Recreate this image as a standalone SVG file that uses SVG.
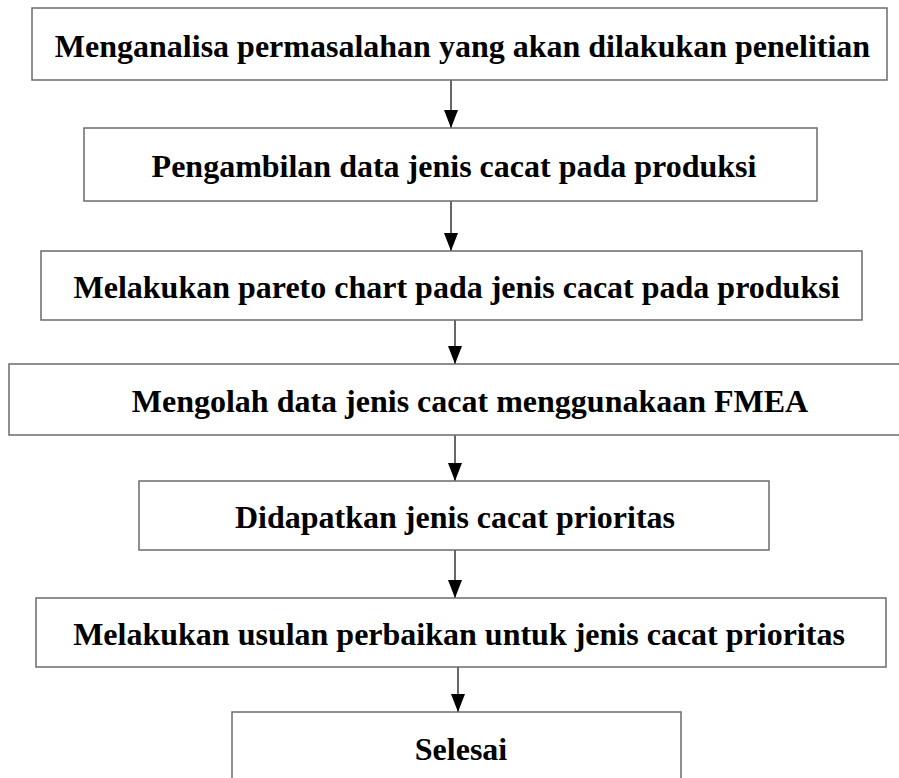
<svg xmlns="http://www.w3.org/2000/svg" width="899" height="778" viewBox="0 0 899 778">
<style>
.box{fill:#ffffff;stroke:#6b6b6b;stroke-width:1.5}
.lbl{font-weight:bold;font-size:32px;fill:#000;text-anchor:middle}
.conn{stroke:#000;stroke-width:1.2;fill:none}
</style>
<defs>
<marker id="ah" markerUnits="userSpaceOnUse" markerWidth="18" markerHeight="14" refX="18" refY="7" orient="auto" viewBox="0 0 18 14">
<path d="M0,0 L18,7 L0,14 Z" fill="#000"/>
</marker>
</defs>
<rect x="0" y="0" width="899" height="778" fill="#ffffff"/>
<g id="connectors">
<line class="conn" x1="451" y1="80" x2="451" y2="128" marker-end="url(#ah)"/>
<line class="conn" x1="451" y1="201" x2="451" y2="251" marker-end="url(#ah)"/>
<line class="conn" x1="455" y1="320" x2="455" y2="364" marker-end="url(#ah)"/>
<line class="conn" x1="455" y1="435" x2="455" y2="481" marker-end="url(#ah)"/>
<line class="conn" x1="455" y1="550" x2="455" y2="598" marker-end="url(#ah)"/>
<line class="conn" x1="458" y1="667" x2="458" y2="712" marker-end="url(#ah)"/>
</g>
<g font-family="'Liberation Serif', 'Times New Roman', 'DejaVu Serif', serif">
<g id="n1"><rect class="box" x="32" y="8" width="855" height="72"/><text class="lbl" x="462.5" y="56.5">Menganalisa permasalahan yang akan dilakukan penelitian</text></g>
<g id="n2"><rect class="box" x="84" y="128" width="733" height="73"/><text class="lbl" x="454" y="177">Pengambilan data jenis cacat pada produksi</text></g>
<g id="n3"><rect class="box" x="41" y="251" width="821" height="69"/><text class="lbl" x="456.5" y="298">Melakukan pareto chart pada jenis cacat pada produksi</text></g>
<g id="n4"><rect class="box" x="9" y="364" width="891" height="71"/><text class="lbl" x="470" y="412">Mengolah data jenis cacat menggunakaan FMEA</text></g>
<g id="n5"><rect class="box" x="139" y="481" width="630" height="69"/><text class="lbl" x="455" y="528">Didapatkan jenis cacat prioritas</text></g>
<g id="n6"><rect class="box" x="36" y="598" width="850" height="69"/><text class="lbl" x="459" y="645">Melakukan usulan perbaikan untuk jenis cacat prioritas</text></g>
<g id="n7"><rect class="box" x="232" y="712" width="449" height="80"/><text class="lbl" x="461" y="760">Selesai</text></g>
</g>
</svg>
